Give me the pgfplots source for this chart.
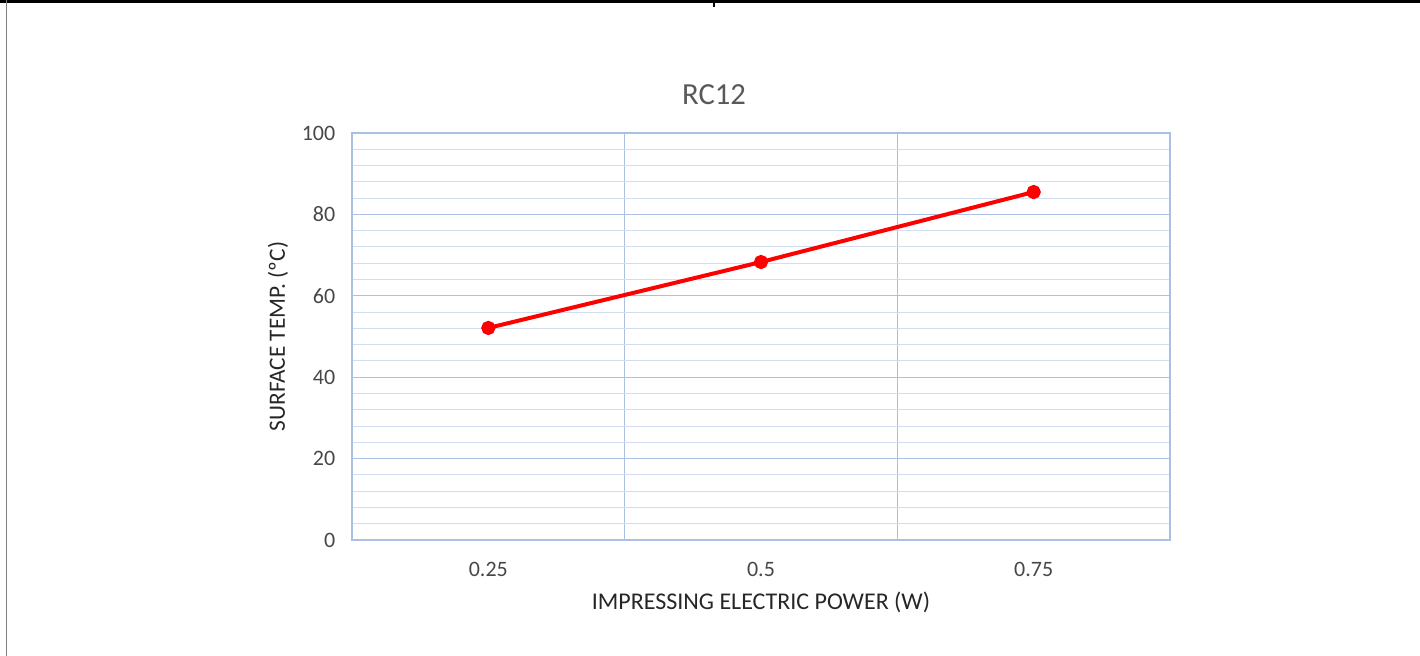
\documentclass[border=0pt]{standalone}
\usepackage{pgfplots}
\pgfplotsset{compat=1.18}
\usepackage{fontspec}
\setmainfont{Carlito}
\definecolor{majgrid}{HTML}{A9BFE3}
\definecolor{mingrid}{HTML}{D2DDF0}
\definecolor{txt}{HTML}{595959}
\begin{document}
\begin{tikzpicture}[x=0.75pt,y=0.75pt]
% outer frame, pixel units
\path[use as bounding box] (0,0) rectangle (1420,656);
\draw[black,line width=2.6pt] (0,655) -- (1420,655);
\draw[gray,line width=1.2pt] (6.5,0) -- (6.5,656);
\draw[black,line width=0.8pt] (714,656) -- (714,649);
\node[txt,font=\fontsize{23}{26}\selectfont] at (714,561) {RC12};
\begin{axis}[
  at={(264pt,87pt)}, anchor=south west,
  scale only axis, width=613.5pt, height=305.25pt,
  xmin=-0.5, xmax=2.5, ymin=0, ymax=100,
  xtick={0,1,2}, xticklabels={0.25,0.5,0.75},
  minor xtick={-0.5,0.5,1.5,2.5},
  ytick={0,20,...,100}, minor ytick={0,4,...,100},
  major tick length=0pt, minor tick length=0pt,
  ymajorgrids, yminorgrids, xminorgrids,
  major grid style={majgrid,line width=0.9pt},
  minor y grid style={mingrid,line width=0.7pt},
  minor x grid style={majgrid,line width=0.9pt},
  axis line style={majgrid,line width=0.9pt},
  tick label style={txt!80!black,font=\fontsize{16.5}{18}\selectfont},
  /pgf/number format/assume math mode=true,
  xticklabel style={yshift=-13pt},
  yticklabel style={xshift=-9pt},
  xlabel={IMPRESSING ELECTRIC POWER (W)},
  ylabel={SURFACE TEMP. (ºC)},
  label style={black!85,font=\fontsize{18}{20}\selectfont},
  xlabel style={yshift=-5pt},
  ylabel style={yshift=3.5pt,font=\fontsize{17.5}{20}\selectfont},
]
\addplot[red,line width=3pt,mark=*,mark size=3.8pt,mark options={fill=red,draw=red}]
  coordinates {(0,52.1) (1,68.3) (2,85.5)};
\draw[gray!50,line width=0.9pt] (rel axis cs:0,0) -- (rel axis cs:1,0);
\end{axis}
\end{tikzpicture}
\end{document}
